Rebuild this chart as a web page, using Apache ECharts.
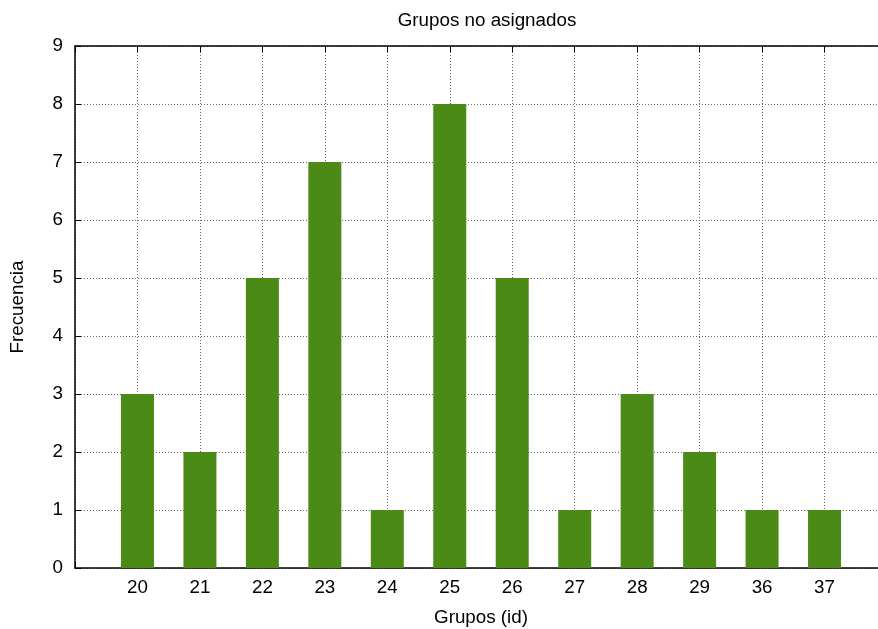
<!DOCTYPE html>
<html>
<head>
<meta charset="utf-8">
<script src="https://cdn.jsdelivr.net/npm/echarts@6/dist/echarts.min.js"></script>
<style>
  html, body { margin: 0; padding: 0; background: #fff; }
  #chart { width: 878px; height: 629px; }
</style>
</head>
<body>
<div id="chart"></div>
<script>
// grupos y frecuencias
var grupos = ['20', '21', '22', '23', '24', '25', '26', '27', '28', '29', '36', '37'];
var frecuencia = [3, 2, 5, 7, 1, 8, 5, 1, 3, 2, 1, 1];
var yTicks = [0, 1, 2, 3, 4, 5, 6, 7, 8, 9];

var chart = echarts.init(document.getElementById('chart'));
var font = 'Liberation Sans, Arial, sans-serif';
var gridLine = { show: true, lineStyle: { type: [1, 2], color: '#666', width: 1 } };

var option = {
  animation: false,
  title: {
    text: 'Grupos no asignados',
    left: 482, top: 6, textAlign: 'center',
    textStyle: { fontFamily: font, fontSize: 18.8, fontWeight: 'normal', color: '#000' }
  },
  grid: { left: 75, top: 46, bottom: 61, right: -9, containLabel: false, outerBoundsMode: 'none' },
  xAxis: [{
    type: 'value', min: -1, max: 12, interval: 1,
    name: 'Grupos (id)', nameLocation: 'middle', nameGap: 40,
    nameTextStyle: { fontFamily: font, fontSize: 18.8, color: '#000' },
    axisLine: { show: true, onZero: false, lineStyle: { color: '#000', width: 1.5 } },
    axisTick: { show: true, inside: true, length: 6, lineStyle: { color: '#000' } },
    axisLabel: {
      fontFamily: font, fontSize: 18.8, color: '#000', margin: 10,
      showMinLabel: true, showMaxLabel: false,
      formatter: function (v) { return (v >= 0 && v < grupos.length) ? grupos[v] : ''; }
    },
    splitLine: gridLine
  }, {
    type: 'value', position: 'top', min: -1, max: 12, interval: 1,
    axisLine: { show: true, onZero: false, lineStyle: { color: '#000', width: 1.5 } },
    axisTick: { show: true, inside: true, length: 6, lineStyle: { color: '#000' } },
    axisLabel: { show: false },
    splitLine: { show: false }
  }],
  yAxis: {
    type: 'value', min: yTicks[0], max: yTicks[yTicks.length - 1], interval: 1,
    name: 'Frecuencia', nameLocation: 'middle', nameGap: 48, nameRotate: 90,
    nameTextStyle: { fontFamily: font, fontSize: 18.8, color: '#000' },
    axisLine: { show: true, onZero: false, lineStyle: { color: '#000', width: 1.5 } },
    axisTick: { show: true, inside: true, length: 6, lineStyle: { color: '#000' } },
    axisLabel: { fontFamily: font, fontSize: 18.8, color: '#000', margin: 12 },
    splitLine: gridLine
  },
  series: [{
    type: 'bar',
    barWidth: 33,
    itemStyle: { color: '#4b8a16' },
    data: frecuencia.map(function (f, i) { return [i, f]; })
  }]
};
chart.setOption(option);
</script>
</body>
</html>
